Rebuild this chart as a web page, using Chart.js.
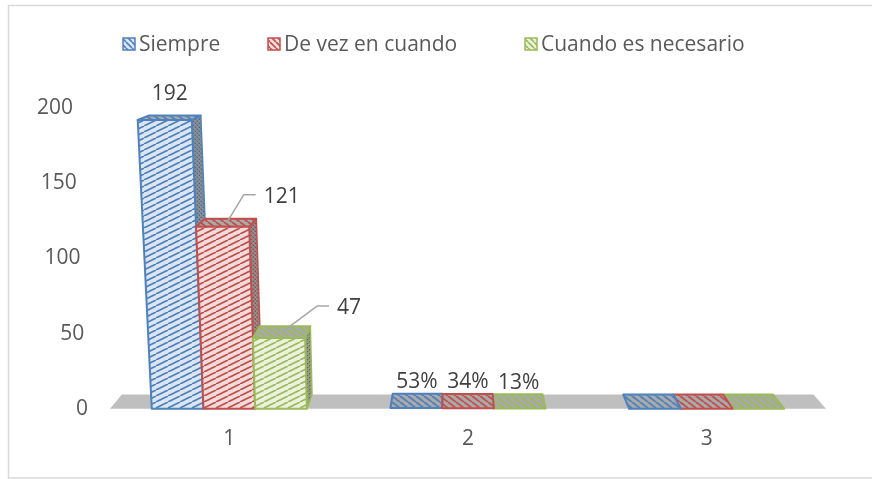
<!DOCTYPE html>
<html>
<head>
<meta charset="utf-8">
<script src="https://cdn.jsdelivr.net/npm/chart.js@4.4.0/dist/chart.umd.min.js"></script>
<style>
  html, body { margin: 0; padding: 0; background: #fff; }
  canvas { display: block; }
</style>
</head>
<body>
<canvas id="myChart" width="872" height="479"></canvas>
<script>
const categories = ['1', '2', '3'];
const seriesNames = ['Siempre', 'De vez en cuando', 'Cuando es necesario'];
const siempre = [192, 0.53, 0];
const deVezEnCuando = [121, 0.34, 0];
const cuandoEsNecesario = [47, 0.13, 0];
const yTicks = [0, 50, 100, 150, 200];
// how each category shows its values on the bars
const labelKinds = ['number', 'percent', 'none'];

const lineColors = ['#4f81bd', '#c0504d', '#9bbb59'];
const faceColors = ['#dce6f2', '#f2dcdb', '#ebf1de'];
const textColor = '#595959';
const fontFamily = "'Open Sans', sans-serif";
const fontSize = 21;

// fake 3d view (vanishing point, depth factor, vertical lean)
const view = { vpx: 458, vpy: -11, depth: 0.034, lean: 6500 };
// legend slots, like excel placed them
const legendX = [123, 268, 525];
// labels moved by hand (dataset-index), with leader lines
const labelMoves = { '1-0': [55, -4], '2-0': [67, -4] };

function stripes(bg, fg, w, h, lw, down) {
    let c = document.createElement('canvas');
    c.width = w; c.height = h;
    let g = c.getContext('2d');
    g.fillStyle = bg;
    g.fillRect(0, 0, w, h);
    g.strokeStyle = fg;
    g.lineWidth = lw;
    for (let i = -1; i <= 1; i++) {
        g.beginPath();
        if (down) { g.moveTo(i * w, 0); g.lineTo(i * w + w, h); }
        else { g.moveTo(i * w, h); g.lineTo(i * w + w, 0); }
        g.stroke();
    }
    return c;
}

function speckle(color) {
    let c = document.createElement('canvas');
    c.width = 4; c.height = 4;
    let g = c.getContext('2d');
    g.fillStyle = '#8e8e8e';
    g.fillRect(0, 0, 4, 4);
    g.globalAlpha = 0.55;
    g.fillStyle = color;
    g.fillRect(0, 0, 2, 2);
    g.fillRect(2, 2, 2, 2);
    g.globalAlpha = 1;
    g.fillStyle = '#5f5f5f';
    g.fillRect(1, 1, 1, 1);
    g.fillRect(3, 3, 1, 1);
    return c;
}

function labelText(v, i) {
    if (labelKinds[i] === 'percent') return Math.round(v * 100) + '%';
    if (labelKinds[i] === 'number') return String(v);
    return '';
}

function back(p) {
    return { x: p.x + (view.vpx - p.x) * view.depth, y: p.y + (view.vpy - p.y) * view.depth };
}
function lean(x, y, floorY, cx) {
    return x + (x - cx) * (floorY - y) / view.lean;
}

function poly(ctx, pts, fill, stroke, lw) {
    ctx.beginPath();
    ctx.moveTo(pts[0].x, pts[0].y);
    for (let i = 1; i < pts.length; i++) ctx.lineTo(pts[i].x, pts[i].y);
    ctx.closePath();
    ctx.fillStyle = fill;
    ctx.fill();
    if (stroke) {
        ctx.strokeStyle = stroke;
        ctx.lineWidth = lw;
        ctx.lineJoin = 'round';
        ctx.stroke();
    }
}

const fake3d = {
    id: 'fake3d',
    beforeDraw(chart) {
        let ctx = chart.ctx;
        ctx.save();
        // chart frame
        ctx.strokeStyle = '#d9d9d9';
        ctx.lineWidth = 1.5;
        ctx.strokeRect(8.5, 5.5, 900, 472.5);
        // legend
        ctx.font = fontSize + 'px ' + fontFamily;
        ctx.textBaseline = 'middle';
        ctx.textAlign = 'left';
        for (let i = 0; i < seriesNames.length; i++) {
            let x = legendX[i];
            ctx.fillStyle = ctx.createPattern(stripes(faceColors[i], lineColors[i], 6, 6, 1.6, true), 'repeat');
            ctx.fillRect(x, 38, 12, 12);
            ctx.strokeStyle = lineColors[i];
            ctx.lineWidth = 1.5;
            ctx.strokeRect(x, 38, 12, 12);
            ctx.fillStyle = textColor;
            ctx.fillText(seriesNames[i], x + 16, 45);
        }
        ctx.restore();
    },
    beforeDatasetsDraw(chart) {
        let ctx = chart.ctx, a = chart.chartArea, y = chart.scales.y;
        let floorY = y.getPixelForValue(0);
        ctx.save();
        // floor
        let fl = { x: a.left, y: floorY }, fr = { x: a.right, y: floorY };
        poly(ctx, [fl, fr, back(fr), back(fl)], '#bfbfbf');
        // value axis labels, leaning like the back wall
        ctx.font = fontSize + 'px ' + fontFamily;
        ctx.fillStyle = textColor;
        ctx.textAlign = 'right';
        ctx.textBaseline = 'middle';
        yTicks.forEach(t => {
            let py = y.getPixelForValue(t);
            ctx.fillText(String(t), 88 - (floorY - py) * 0.05, py);
        });
        ctx.restore();
    },
    afterDatasetsDraw(chart) {
        let ctx = chart.ctx, a = chart.chartArea;
        let cx = (a.left + a.right) / 2;
        let boxes = [];
        chart.getSortedVisibleDatasetMetas().forEach(meta => {
            meta.data.forEach((el, i) => {
                let ds = meta.index;
                let v = chart.data.datasets[ds].data[i];
                let xl = el.x - el.width / 2, xr = el.x + el.width / 2;
                let yb = el.base, yt = el.y;
                let BL = { x: xl, y: yb }, BR = { x: xr, y: yb };
                let TL = { x: lean(xl, yt, yb, cx), y: yt }, TR = { x: lean(xr, yt, yb, cx), y: yt };
                boxes.push({ ds, i, v, BL, BR, TL, TR, mid: el.x });
            });
        });
        // farthest from the eye first
        boxes.sort((p, q) => Math.abs(q.mid - view.vpx) - Math.abs(p.mid - view.vpx));
        ctx.save();
        boxes.forEach(b => {
            let col = lineColors[b.ds];
            let topFill = ctx.createPattern(stripes('#a9a9a9', col, 8, 6, 1.8, true), 'repeat');
            let sideFill = ctx.createPattern(speckle(col), 'repeat');
            let frontFill = ctx.createPattern(stripes(faceColors[b.ds], col, 12, 6, 1.7, false), 'repeat');
            let tall = b.BL.y - b.TL.y > 2;
            if (tall) {
                if (b.BR.x < view.vpx) poly(ctx, [b.TR, b.BR, back(b.BR), back(b.TR)], sideFill, col, 1.5);
                else if (b.BL.x > view.vpx) poly(ctx, [b.TL, b.BL, back(b.BL), back(b.TL)], sideFill, col, 1.5);
            }
            poly(ctx, [b.TL, b.TR, back(b.TR), back(b.TL)], topFill, col, 2);
            if (tall) poly(ctx, [b.BL, b.BR, b.TR, b.TL], frontFill, col, 2);
        });
        // value labels
        ctx.font = fontSize + 'px ' + fontFamily;
        ctx.textAlign = 'center';
        ctx.textBaseline = 'middle';
        boxes.forEach(b => {
            let txt = labelText(b.v, b.i);
            if (!txt) return;
            let fx = (b.TL.x + b.TR.x) / 2;
            let bk = back({ x: fx, y: b.TL.y });
            let tx = (fx + bk.x) / 2, ty = b.TL.y - 26;
            let mv = labelMoves[b.ds + '-' + b.i];
            if (mv) {
                let ax = tx, ay = (b.TL.y + bk.y) / 2;
                tx += mv[0]; ty += mv[1];
                let left = tx - ctx.measureText(txt).width / 2 - 8;
                ctx.strokeStyle = '#a6a6a6';
                ctx.lineWidth = 1.5;
                ctx.beginPath();
                ctx.moveTo(left, ty - 2);
                ctx.lineTo(left - 12, ty - 2);
                ctx.lineTo(ax, ay);
                ctx.stroke();
            }
            ctx.fillStyle = '#404040';
            ctx.fillText(txt, tx, ty);
        });
        ctx.restore();
    }
};

Chart.defaults.font.family = fontFamily;

const ctx = document.getElementById('myChart');
new Chart(ctx, {
    type: 'bar',
    data: {
        labels: categories,
        datasets: [
            { label: seriesNames[0], data: siempre },
            { label: seriesNames[1], data: deVezEnCuando },
            { label: seriesNames[2], data: cuandoEsNecesario }
        ].map(d => Object.assign(d, {
            backgroundColor: 'rgba(0,0,0,0)',
            borderWidth: 0,
            categoryPercentage: 0.65,
            barPercentage: 1
        }))
    },
    options: {
        responsive: false,
        devicePixelRatio: 1,
        animation: false,
        events: [],
        layout: { padding: { left: 110, right: 46, top: 108, bottom: 9 } },
        plugins: { legend: { display: false }, tooltip: { enabled: false } },
        scales: {
            x: {
                grid: { display: false, drawTicks: false },
                border: { display: false },
                ticks: { color: textColor, font: { size: fontSize }, padding: 18 }
            },
            y: {
                display: false,
                min: 0,
                max: 200,
                ticks: { stepSize: 50 }
            }
        }
    },
    plugins: [fake3d]
});
</script>
</body>
</html>
